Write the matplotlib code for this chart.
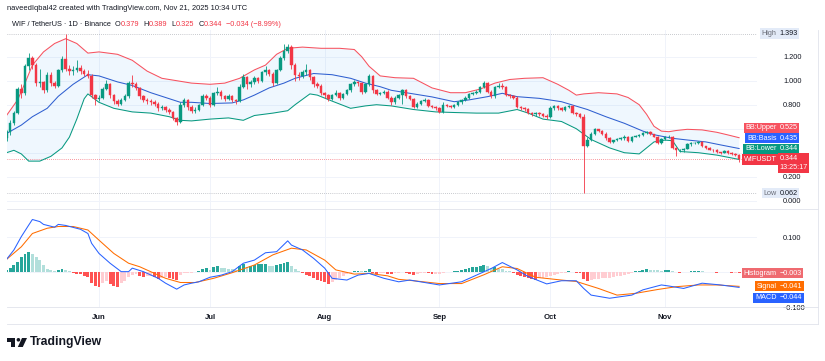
import numpy as np
import pandas as pd
import matplotlib
matplotlib.use("Agg")
import matplotlib.pyplot as plt
import matplotlib.dates as mdates
from matplotlib.patches import Polygon, Circle

plt.rcParams['font.family'] = ['Liberation Sans', 'DejaVu Sans']

# ---- data ----
START = "2025-05-07"
OPEN0 = 0.52
closes = [
    0.57, 0.65, 0.73, 0.93, 0.90, 1.12, 1.19, 1.13, 0.98, 0.99,
    0.92, 1.05, 0.98, 0.96, 1.09, 1.18, 1.10, 1.08, 1.09, 1.11,
    1.08, 1.06, 1.04, 0.88, 0.85, 0.86, 0.93, 0.97, 0.88, 0.83,
    0.81, 0.84, 0.87, 0.98, 0.97, 0.94, 0.87, 0.84, 0.83, 0.82,
    0.81, 0.77, 0.78, 0.76, 0.74, 0.69, 0.66, 0.80, 0.84, 0.78,
    0.75, 0.76, 0.80, 0.87, 0.86, 0.80, 0.90, 0.91, 0.87, 0.85,
    0.87, 0.84, 0.83, 0.95, 1.03, 0.97, 0.99, 1.02, 1.00, 1.07,
    1.09, 1.06, 0.98, 1.09, 1.19, 1.25, 1.28, 1.13, 1.05, 1.04,
    1.07, 1.09, 1.03, 0.97, 0.96, 0.90, 0.88, 0.85, 0.88, 0.90,
    0.86, 0.89, 0.92, 0.97, 0.99, 0.98, 0.91, 0.97, 1.04, 0.92,
    0.89, 0.90, 0.91, 0.86, 0.82, 0.86, 0.88, 0.92, 0.87, 0.85,
    0.78, 0.81, 0.83, 0.84, 0.79, 0.78, 0.77, 0.74, 0.80, 0.79,
    0.78, 0.80, 0.82, 0.84, 0.86, 0.89, 0.90, 0.91, 0.95, 0.98,
    0.91, 0.87, 0.95, 0.96, 0.95, 0.88, 0.87, 0.86, 0.78, 0.77,
    0.765, 0.73, 0.72, 0.73, 0.72, 0.71, 0.70, 0.77, 0.79, 0.77,
    0.76, 0.785, 0.79, 0.73, 0.725, 0.70, 0.46, 0.51, 0.56, 0.595,
    0.585, 0.56, 0.52, 0.49, 0.505, 0.515, 0.52, 0.535, 0.50, 0.535,
    0.54, 0.55, 0.565, 0.57, 0.555, 0.535, 0.48, 0.515, 0.53, 0.535,
    0.44, 0.42, 0.425, 0.435, 0.475, 0.478, 0.482, 0.49, 0.455, 0.44,
    0.425, 0.42, 0.405, 0.40, 0.415, 0.40, 0.392, 0.379, 0.344,
]
highs = [
    0.59, 0.67, 0.75, 0.95, 0.97, 1.14, 1.23, 1.21, 1.15, 1.10,
    1.00, 1.07, 1.07, 1.00, 1.10, 1.21, 1.393, 1.13, 1.12, 1.17,
    1.13, 1.10, 1.09, 1.06, 0.89, 0.88, 0.95, 1.01, 0.98, 0.89,
    0.85, 0.86, 0.89, 1.00, 1.05, 0.99, 0.95, 0.88, 0.86, 0.85,
    0.84, 0.82, 0.80, 0.79, 0.77, 0.75, 0.70, 0.82, 0.86, 0.85,
    0.80, 0.78, 0.81, 0.89, 0.89, 0.87, 0.91, 0.95, 0.92, 0.88,
    0.89, 0.88, 0.85, 0.97, 1.06, 1.04, 1.01, 1.04, 1.03, 1.08,
    1.12, 1.10, 1.07, 1.10, 1.21, 1.31, 1.31, 1.30, 1.15, 1.07,
    1.09, 1.14, 1.10, 1.04, 0.99, 0.97, 0.91, 0.89, 0.89, 0.92,
    0.91, 0.90, 0.93, 0.98, 1.01, 1.00, 0.99, 0.98, 1.06, 1.05,
    0.93, 0.91, 0.92, 0.92, 0.87, 0.87, 0.89, 0.93, 0.93, 0.88,
    0.86, 0.82, 0.84, 0.86, 0.85, 0.80, 0.79, 0.78, 0.82, 0.81,
    0.80, 0.81, 0.83, 0.85, 0.87, 0.90, 0.91, 0.92, 0.96, 1.00,
    0.99, 0.92, 0.96, 0.98, 0.98, 0.96, 0.89, 0.88, 0.87, 0.79,
    0.78, 0.77, 0.74, 0.74, 0.74, 0.73, 0.72, 0.79, 0.80, 0.80,
    0.78, 0.79, 0.80, 0.80, 0.74, 0.73, 0.72, 0.53, 0.57, 0.61,
    0.60, 0.59, 0.57, 0.53, 0.51, 0.52, 0.53, 0.55, 0.54, 0.54,
    0.55, 0.56, 0.57, 0.58, 0.58, 0.56, 0.54, 0.52, 0.54, 0.55,
    0.54, 0.45, 0.43, 0.44, 0.48, 0.49, 0.49, 0.50, 0.50, 0.46,
    0.45, 0.43, 0.43, 0.41, 0.42, 0.42, 0.41, 0.40, 0.389,
]
lows = [
    0.50, 0.55, 0.63, 0.72, 0.86, 0.88, 1.09, 1.10, 0.96, 0.95,
    0.90, 0.91, 0.96, 0.94, 0.95, 1.07, 1.08, 1.05, 1.05, 1.07,
    1.06, 1.04, 1.02, 0.86, 0.80, 0.83, 0.85, 0.92, 0.86, 0.81,
    0.79, 0.80, 0.83, 0.86, 0.95, 0.92, 0.85, 0.82, 0.81, 0.80,
    0.79, 0.75, 0.76, 0.74, 0.72, 0.67, 0.63, 0.65, 0.78, 0.76,
    0.73, 0.73, 0.75, 0.79, 0.84, 0.78, 0.79, 0.88, 0.85, 0.83,
    0.84, 0.82, 0.81, 0.82, 0.94, 0.93, 0.95, 0.97, 0.98, 0.99,
    1.05, 1.04, 0.96, 0.97, 1.08, 1.17, 1.23, 1.10, 1.00, 1.01,
    1.02, 1.05, 1.01, 0.95, 0.94, 0.88, 0.86, 0.83, 0.84, 0.87,
    0.84, 0.85, 0.88, 0.91, 0.96, 0.96, 0.89, 0.90, 0.96, 0.90,
    0.88, 0.88, 0.89, 0.85, 0.80, 0.81, 0.85, 0.81, 0.86, 0.84,
    0.77, 0.77, 0.80, 0.82, 0.78, 0.77, 0.76, 0.73, 0.73, 0.78,
    0.77, 0.77, 0.79, 0.81, 0.83, 0.85, 0.88, 0.89, 0.90, 0.94,
    0.90, 0.86, 0.86, 0.94, 0.93, 0.87, 0.86, 0.85, 0.77, 0.76,
    0.75, 0.72, 0.71, 0.71, 0.71, 0.70, 0.68, 0.69, 0.76, 0.76,
    0.75, 0.75, 0.77, 0.72, 0.71, 0.69, 0.062, 0.45, 0.50, 0.55,
    0.57, 0.55, 0.51, 0.48, 0.48, 0.50, 0.51, 0.51, 0.49, 0.49,
    0.53, 0.53, 0.54, 0.56, 0.55, 0.53, 0.47, 0.47, 0.51, 0.52,
    0.43, 0.37, 0.41, 0.41, 0.43, 0.46, 0.47, 0.47, 0.45, 0.43,
    0.42, 0.41, 0.40, 0.39, 0.395, 0.39, 0.385, 0.37, 0.325,
]
hist = [
    0.005, 0.012, 0.020, 0.030, 0.042, 0.052, 0.057, 0.052, 0.043, 0.034,
    0.020, 0.010, 0.007, 0.003, 0.006, 0.010, 0.005, 0.002, -0.003, -0.005,
    -0.007, -0.010, -0.015, -0.030, -0.040, -0.044, -0.030, -0.025, -0.035, -0.040,
    -0.042, -0.030, -0.025, -0.015, -0.008, -0.006, -0.010, -0.013, -0.012, -0.010,
    -0.015, -0.020, -0.016, -0.014, -0.017, -0.020, -0.022, -0.008, -0.004, -0.003,
    -0.002, -0.001, 0.004, 0.009, 0.012, 0.006, 0.013, 0.016, 0.012, 0.011,
    0.010, 0.008, 0.006, 0.018, 0.023, 0.015, 0.017, 0.020, 0.022, 0.024,
    0.024, 0.018, 0.016, 0.020, 0.024, 0.027, 0.028, 0.018, 0.010, 0.003,
    -0.004, -0.008, -0.012, -0.016, -0.022, -0.026, -0.029, -0.034, -0.028, -0.024,
    -0.018, -0.012, -0.007, -0.002, 0.002, 0.003, 0.002, 0.004, 0.008, -0.003,
    -0.005, -0.004, -0.002, -0.005, -0.007, -0.004, -0.003, -0.001, -0.004, -0.006,
    -0.008, -0.006, -0.004, -0.002, -0.004, -0.006, -0.006, -0.005, -0.002, -0.001,
    0.001, 0.002, 0.004, 0.006, 0.009, 0.011, 0.013, 0.015, 0.018, 0.020,
    0.016, 0.012, 0.013, 0.010, 0.008, 0.004, 0.002, -0.002, -0.008, -0.012,
    -0.015, -0.018, -0.020, -0.022, -0.018, -0.016, -0.013, -0.010, -0.008, -0.006,
    -0.004, -0.002, 0.002, -0.001, -0.002, -0.004, -0.020, -0.025, -0.022, -0.020,
    -0.019, -0.018, -0.017, -0.016, -0.014, -0.012, -0.010, -0.008, -0.006, -0.003,
    0.002, 0.004, 0.006, 0.008, 0.007, 0.006, 0.005, 0.004, 0.006, 0.007,
    0.004, -0.001, -0.002, -0.001, 0.001, 0.002, 0.003, 0.004, 0.002, 0.001,
    -0.001, -0.001, -0.002, -0.001, 0.000, -0.001, -0.002, -0.002, -0.003,
]

# Bollinger bands, sampled along the picture (day number from START)
bb_up_day = [0, 3, 5, 7, 10, 13, 16, 19, 22, 25, 30, 34, 38, 42, 46, 50, 55, 59, 63, 67,
             70, 73, 76, 80, 85, 90, 94, 96, 98, 101, 105, 110, 115, 120, 124, 128, 132,
             136, 140, 145, 149, 152, 154, 156, 160, 165, 168, 171, 173, 175, 177, 179,
             181, 184, 188, 192, 195, 198]
bb_up = [0.71, 0.84, 0.98, 1.13, 1.24, 1.31, 1.35, 1.31, 1.23, 1.24, 1.22, 1.17, 1.08,
         1.02, 1.00, 0.98, 0.97, 0.98, 1.02, 1.09, 1.13, 1.22, 1.27, 1.28, 1.27, 1.27,
         1.26, 1.20, 1.12, 1.04, 1.025, 1.02, 0.94, 0.90, 0.90, 0.93, 0.98, 1.01, 1.02,
         1.025, 0.97, 0.92, 0.88, 0.89, 0.90, 0.89, 0.86, 0.80, 0.72, 0.62, 0.58, 0.575,
         0.585, 0.595, 0.59, 0.57, 0.548, 0.525]
bb_mid_day = [0, 4, 7, 11, 14, 18, 22, 25, 30, 34, 39, 44, 47, 50, 55, 61, 64, 67, 71, 75,
              78, 83, 88, 93, 97, 101, 104, 109, 115, 121, 125, 130, 134, 138, 144, 150,
              157, 162, 167, 172, 175, 180, 184, 189, 193, 198]
bb_mid = [0.56, 0.63, 0.70, 0.77, 0.87, 0.97, 1.05, 1.04, 0.99, 0.96, 0.90, 0.85, 0.82,
          0.82, 0.81, 0.815, 0.84, 0.88, 0.94, 0.98, 1.02, 1.06, 1.05, 1.02, 0.98, 0.95,
          0.92, 0.895, 0.865, 0.825, 0.84, 0.867, 0.895, 0.867, 0.853, 0.825, 0.76, 0.70,
          0.645, 0.58, 0.55, 0.52, 0.506, 0.49, 0.465, 0.435]
bb_low_day = [0, 2, 4, 6, 9, 12, 15, 17, 19, 21, 22, 25, 29, 34, 39, 44, 47, 50, 55, 60,
              64, 67, 72, 76, 78, 82, 84, 88, 93, 97, 100, 104, 110, 116, 121, 127, 133,
              138, 141, 145, 150, 154, 158, 163, 167, 171, 173, 175, 178, 180, 182, 187,
              192, 198]
bb_low = [0.40, 0.42, 0.39, 0.33, 0.33, 0.37, 0.44, 0.53, 0.68, 0.85, 0.89, 0.82, 0.77,
          0.74, 0.73, 0.70, 0.67, 0.665, 0.68, 0.69, 0.67, 0.71, 0.73, 0.75, 0.80, 0.89,
          0.88, 0.83, 0.77, 0.79, 0.80, 0.79, 0.76, 0.74, 0.735, 0.73, 0.73, 0.76, 0.73,
          0.68, 0.66, 0.60, 0.51, 0.44, 0.40, 0.39, 0.44, 0.49, 0.505, 0.50, 0.41, 0.40,
          0.38, 0.344]

macd_day = [0, 2, 4, 6, 7, 9, 10, 13, 14, 16, 20, 22, 23, 25, 28, 31, 33, 34, 37, 41,
            43, 46, 48, 50, 52, 55, 58, 61, 64, 67, 70, 73, 76, 77, 80, 83, 86, 88, 92, 95,
            98, 102, 106, 109, 117, 123, 127, 131, 134, 138, 141, 146, 150, 154, 156, 158,
            163, 169, 172, 177, 179, 183, 188, 193, 198]
macd = [0.036, 0.063, 0.101, 0.134, 0.150, 0.144, 0.136, 0.128, 0.136, 0.133,
        0.122, 0.110, 0.082, 0.053, 0.025, 0.001, 0.001, 0.011, 0.001, -0.018,
        -0.032, -0.049, -0.037, -0.032, -0.028, -0.015, -0.009, 0.001, 0.025, 0.034,
        0.055, 0.058, 0.089, 0.077, 0.063, 0.039, 0.011, -0.018, -0.023, -0.009,
        -0.004, -0.018, -0.028, -0.023, -0.037, -0.028, -0.009, 0.010, 0.027, 0.006,
        -0.013, -0.034, -0.025, -0.025, -0.047, -0.066, -0.075, -0.066, -0.051, -0.037,
        -0.040, -0.047, -0.032, -0.037, -0.044]
signal_day = [0, 4, 7, 11, 14, 18, 22, 25, 29, 33, 36, 40, 43, 47, 51, 56, 61, 67, 72, 77,
              81, 86, 89, 94, 98, 103, 106, 110, 117, 123, 129, 134, 138, 143, 150, 154,
              160, 165, 170, 176, 181, 187, 192, 198]
signal = [0.036, 0.072, 0.110, 0.125, 0.130, 0.130, 0.120, 0.091, 0.053, 0.025,
          0.015, -0.004, -0.018, -0.030, -0.030, -0.018, -0.002, 0.020, 0.049, 0.068,
          0.063, 0.034, 0.006, -0.006, -0.004, -0.011, -0.021, -0.025, -0.033, -0.033,
          -0.008, 0.015, 0.010, -0.015, -0.023, -0.027, -0.047, -0.066, -0.061, -0.050,
          -0.042, -0.037, -0.037, -0.041]

price_ticks = [0.0, 0.2, 0.4, 0.6, 0.8, 1.0, 1.2]
price_tick_labels = ["0.000", "0.200", "", "", "0.800", "1.000", "1.200"]
macd_ticks = [-0.1, 0.0, 0.1]
macd_tick_labels = ["\u22120.100", "", "0.100"]
price_labels = ["BB:Upper", "BB:Basis", "BB:Lower", "WIFUSDT"]
price_label_values = [0.525, 0.435, 0.344, 0.344]
macd_labels = ["Histogram", "Signal", "MACD"]
macd_label_values = [-0.003, -0.041, -0.044]
countdown = "13:25:17"
header = "naveedIqbal42 created with TradingView.com, Nov 21, 2025 10:34 UTC"
symbol = "WIF / TetherUS · 1D · Binance"
ohlc_names = ["O", "H", "L", "C"]
ohlc_values = [0.379, 0.389, 0.325, 0.344]
change, change_pct = -0.034, -8.99

# ---- colours ----
UP, DOWN = "#089981", "#f23645"
C_UPPER, C_BASIS, C_LOWER = "#f7525f", "#2962ff", "#089981"
C_MACD, C_SIGNAL = "#2962ff", "#ff6d00"
TXT = "#131722"
GRID = "#f0f3fa"
LINE = "#e0e3eb"


def fmt(v):
    return f"{v:.3f}".replace("-", "\u2212")


def days(d):
    return mdates.date2num(pd.Timestamp(START) + pd.to_timedelta(np.asarray(d), unit="D"))


W, H = 825, 361
fig = plt.figure(figsize=(W / 100, H / 100), dpi=100)


def frame(x0, y0, x1, y1):
    return [x0 / W, 1 - y1 / H, (x1 - x0) / W, (y1 - y0) / H]


axp = fig.add_axes(frame(7, 30, 757, 209))
axm = fig.add_axes(frame(7, 209, 757, 307), sharex=axp)

xs = days(np.arange(len(closes)))
c = np.array(closes)
o = np.r_[OPEN0, c[:-1]]
cols = np.where(c >= o, UP, DOWN)

# Bollinger band fill and lines
xu, xm, xl = days(bb_up_day), days(bb_mid_day), days(bb_low_day)
axp.fill(np.r_[xu, xl[::-1]], np.r_[bb_up, bb_low[::-1]], color="#2196f3", alpha=0.07, lw=0, zorder=1)
axp.plot(xu, bb_up, color=C_UPPER, lw=0.75, zorder=2)
axp.plot(xm, bb_mid, color="#2f5fd0", lw=0.75, zorder=2)
axp.plot(xl, bb_low, color=C_LOWER, lw=0.75, zorder=2)

# candles
axp.vlines(xs, lows, highs, colors=cols, lw=0.6, zorder=3)
axp.bar(xs, np.abs(c - o), bottom=np.minimum(o, c), width=0.7, color=cols,
        edgecolor=cols, linewidth=0.3, zorder=4)

# high / low / last price lines
axp.axhline(max(highs), color="#9598a1", lw=0.5, ls=(0, (1, 2)), zorder=1)
axp.axhline(min(lows), color="#9598a1", lw=0.5, ls=(0, (1, 2)), zorder=1)
axp.axhline(closes[-1], color=DOWN, lw=0.5, ls=(0, (1, 2)), zorder=1)

# MACD pane
h = np.array(hist)
prev = np.r_[h[0], h[:-1]]
hcols = np.where(h >= 0, np.where(h >= prev, "#26a69a", "#b2dfdb"),
                 np.where(h < prev, "#ff5252", "#ffcdd2"))
axm.bar(xs, h, width=0.76, color=hcols, zorder=2)
axm.plot(days(signal_day), signal, color=C_SIGNAL, lw=0.75, zorder=3)
axm.plot(days(macd_day), macd, color=C_MACD, lw=0.75, zorder=3)

# axes styling
x_left = mdates.date2num(pd.Timestamp(START)) + (7 - 6.5) / 3.7
x_right = mdates.date2num(pd.Timestamp(START)) + (757 - 6.5) / 3.7
axp.set_xlim(x_left, x_right)
axp.set_ylim(-0.069, 1.4225)
axm.set_ylim(-0.1, 0.18)

for ax in (axp, axm):
    for s in ax.spines.values():
        s.set_visible(False)
    ax.yaxis.tick_right()
    ax.tick_params(axis="y", length=0, pad=18.7, labelsize=5.3, labelcolor=TXT)
    ax.grid(True, color=GRID, lw=0.7, zorder=0)
    ax.set_axisbelow(True)

axp.set_yticks(price_ticks)
axp.set_yticklabels(price_tick_labels)
axm.set_yticks(macd_ticks)
axm.set_yticklabels(macd_tick_labels)
axm.xaxis.set_major_locator(mdates.MonthLocator())
axm.xaxis.set_major_formatter(mdates.DateFormatter("%b"))
axp.tick_params(axis="x", length=0, labelbottom=False)
axm.tick_params(axis="x", length=0, pad=5, labelsize=5.6, labelcolor=TXT)
for lab in axm.get_xticklabels():
    lab.set_fontweight("bold")

# overlay in pixel coordinates for labels and frame
ov = fig.add_axes([0, 0, 1, 1])
ov.set_xlim(0, W)
ov.set_ylim(H, 0)
ov.axis("off")
ov.patch.set_alpha(0)

for y in (209, 307, 324):
    ov.plot([7, 818], [y, y], color=LINE, lw=0.6)
ov.plot([818, 818], [30, 324], color=LINE, lw=0.6)


def ypx(ax, v):
    disp = ax.transData.transform((0, v))
    return ov.transData.inverted().transform(disp)[1]


FS = 5.2


def tag(y, name, value, color, tcolor="white", vcolor="white"):
    ov.text(776.5, y, name, ha="right", va="center", color=tcolor, fontsize=FS,
            bbox=dict(boxstyle="square,pad=0.22", fc=color, ec="none"))
    ov.text(779.5, y, value, ha="left", va="center", color=vcolor, fontsize=FS,
            bbox=dict(boxstyle="square,pad=0.22", fc=color, ec="none"))


# High / Low
tag(ypx(axp, max(highs)), "High", fmt(max(highs)), "#e3ebf8", "#6a6d78", TXT)
tag(ypx(axp, min(lows)), "Low", fmt(min(lows)), "#e3ebf8", "#6a6d78", TXT)

# price labels stacked from the bottom up
pcols = [C_UPPER, C_BASIS, C_LOWER, DOWN]
prev_y = None
ys = []
for v in reversed(price_label_values):
    y = ypx(axp, v)
    if prev_y is not None:
        y = min(y, prev_y - 10.6)
    ys.append(y)
    prev_y = y
ys = ys[::-1]
for name, v, col, y in zip(price_labels, price_label_values, pcols, ys):
    if name == "WIFUSDT":
        ov.text(776.5, y, name, ha="right", va="center", color="white", fontsize=FS,
                bbox=dict(boxstyle="square,pad=0.22", fc=col, ec="none"))
        ov.text(779.5, y - 4.4, fmt(v) + "\n" + countdown, ha="left", va="top", color="white",
                fontsize=FS, linespacing=1.45,
                bbox=dict(boxstyle="square,pad=0.22", fc=col, ec="none"))
    else:
        tag(y, name, fmt(v), col)

# MACD labels stacked from the top down
mcols = ["#ef6a70", C_SIGNAL, C_MACD]
prev_y = None
for name, v, col in zip(macd_labels, macd_label_values, mcols):
    y = ypx(axm, v)
    if prev_y is not None:
        y = max(y, prev_y + 11.6)
    tag(y, name, fmt(v), col)
    prev_y = y

# header
ov.text(7, 9, header, ha="left", va="center", fontsize=FS + 0.2, color=TXT)
t = ov.text(12, 25, symbol, ha="left", va="center", fontsize=FS + 0.1, color=TXT)


def chain(prev, s, color, gap):
    return ov.annotate(s, xy=(1, 0.5), xycoords=prev, xytext=(gap, 0),
                       textcoords="offset points", ha="left", va="center",
                       fontsize=FS + 0.1, color=color)


for n, v in zip(ohlc_names, ohlc_values):
    t = chain(t, n, TXT, 3)
    t = chain(t, f"{v:.3f}", DOWN, 0)
t = chain(t, f"{fmt(change)} ({change_pct:.2f}%)".replace("-", "\u2212"), DOWN, 3)

# TradingView logo
ov.add_patch(Polygon([(7, 338), (15, 338), (15, 347), (11.3, 347), (11.3, 341.6), (7, 341.6)],
                     closed=True, fc=TXT, ec="none"))
ov.add_patch(Circle((18.4, 339.8), 1.8, fc=TXT, ec="none"))
ov.add_patch(Polygon([(22, 338), (27, 338), (22.8, 347), (17.8, 347)], closed=True, fc=TXT, ec="none"))
ov.text(30, 342.5, "TradingView", ha="left", va="center", fontsize=8.8, fontweight="bold", color=TXT)

fig.savefig("out.png", dpi=100, facecolor="white")
